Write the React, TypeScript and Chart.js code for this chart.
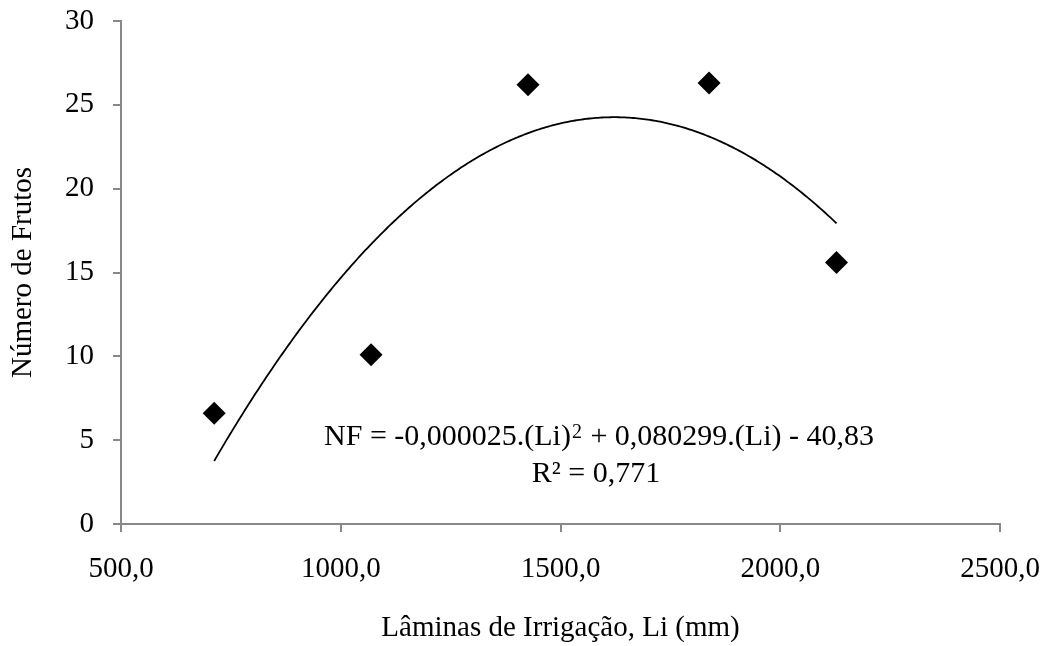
import { useEffect, useRef } from "react";
import { Chart, registerables } from "chart.js";

Chart.register(...registerables);

// Irrigation depth (mm) and number of fruits observed
const laminas = [712, 1069, 1426, 1838, 2128];
const numeroFrutos = [6.6, 10.1, 26.2, 26.3, 15.6];

// Axis ticks
const xTicks = [500, 1000, 1500, 2000, 2500];
const yTicks = [0, 5, 10, 15, 20, 25, 30];

// Regression label text
const equationMain = "NF = -0,000025.(Li)";
const equationSup = "2";
const equationRest = " + 0,080299.(Li) - 40,83";
const r2Label = "R² = 0,771";

const xTitle = "Lâminas de Irrigação, Li (mm)";
const yTitle = "Número de Frutos";

const FAMILY = '"Liberation Serif", "Times New Roman", serif';
const AXIS_GREY = "#888888";

// Least-squares quadratic fit y = a x^2 + b x + c (polynomial trendline)
function quadraticFit(xs: number[], ys: number[]) {
  const n = xs.length;
  let s1 = 0, s2 = 0, s3 = 0, s4 = 0, t0 = 0, t1 = 0, t2 = 0;
  for (let i = 0; i < n; i++) {
    const x = xs[i], y = ys[i];
    s1 += x; s2 += x * x; s3 += x * x * x; s4 += x * x * x * x;
    t0 += y; t1 += x * y; t2 += x * x * y;
  }
  const m = [
    [s4, s3, s2, t2],
    [s3, s2, s1, t1],
    [s2, s1, n, t0],
  ];
  for (let col = 0; col < 3; col++) {
    let piv = col;
    for (let r = col + 1; r < 3; r++) if (Math.abs(m[r][col]) > Math.abs(m[piv][col])) piv = r;
    [m[col], m[piv]] = [m[piv], m[col]];
    for (let r = 0; r < 3; r++) {
      if (r === col) continue;
      const f = m[r][col] / m[col][col];
      for (let k = col; k < 4; k++) m[r][k] -= f * m[col][k];
    }
  }
  return { a: m[0][3] / m[0][0], b: m[1][3] / m[1][1], c: m[2][3] / m[2][2] };
}

function trendPoints() {
  const { a, b, c } = quadraticFit(laminas, numeroFrutos);
  const lo = Math.min(...laminas);
  const hi = Math.max(...laminas);
  const steps = 300;
  const pts: { x: number; y: number }[] = [];
  for (let i = 0; i <= steps; i++) {
    const x = lo + ((hi - lo) * i) / steps;
    pts.push({ x, y: a * x * x + b * x + c });
  }
  return pts;
}

const fmtComma = (v: number) => v.toFixed(1).replace(".", ",");

// Draws the regression equation and R² inside the plot area
const equationPlugin = {
  id: "equationLabel",
  afterDatasetsDraw(chart: any) {
    const { ctx, chartArea } = chart;
    ctx.save();
    ctx.fillStyle = "#000";
    ctx.textBaseline = "alphabetic";
    const mainFont = `30px ${FAMILY}`;
    const supFont = `20px ${FAMILY}`;
    ctx.font = mainFont;
    const w1 = ctx.measureText(equationMain).width;
    const w3 = ctx.measureText(equationRest).width;
    ctx.font = supFont;
    const w2 = ctx.measureText(equationSup).width + 2;
    const total = w1 + w2 + w3;
    const cx = chartArea.left + 478;
    const base1 = chartArea.top + 424;
    let x = cx - total / 2;
    ctx.textAlign = "left";
    ctx.font = mainFont;
    ctx.fillText(equationMain, x, base1);
    x += w1;
    ctx.font = supFont;
    ctx.fillText(equationSup, x + 1, base1 - 7);
    x += w2;
    ctx.font = mainFont;
    ctx.fillText(equationRest, x, base1);
    ctx.textAlign = "center";
    ctx.fillText(r2Label, chartArea.left + 475, chartArea.top + 461);
    ctx.restore();
  },
};

export default function App() {
  const canvasRef = useRef<HTMLCanvasElement | null>(null);

  useEffect(() => {
    if (!canvasRef.current) return;
    const tickFont = { family: FAMILY, size: 29 };
    const chart = new Chart(canvasRef.current, {
      type: "scatter",
      data: {
        datasets: [
          {
            type: "line",
            label: "trend",
            data: trendPoints(),
            borderColor: "#000",
            borderWidth: 1.8,
            pointRadius: 0,
            fill: false,
            tension: 0,
            order: 2,
          } as any,
          {
            type: "scatter",
            label: "NF",
            data: laminas.map((x, i) => ({ x, y: numeroFrutos[i] })),
            backgroundColor: "#000",
            borderColor: "#000",
            borderWidth: 0,
            pointStyle: "rectRot",
            pointRadius: 11.5,
            order: 1,
          },
        ],
      },
      options: {
        animation: false,
        responsive: false,
        devicePixelRatio: 1,
        layout: { padding: { left: 6, top: 21, right: 51, bottom: 0 } },
        plugins: {
          legend: { display: false },
          tooltip: { enabled: false },
        },
        scales: {
          x: {
            type: "linear",
            min: 500,
            max: 2500,
            afterBuildTicks: (scale: any) => {
              scale.ticks = xTicks.map((value) => ({ value }));
            },
            afterFit: (scale: any) => {
              scale.height = 122;
              scale.paddingLeft = 0;
              scale.paddingRight = 0;
            },
            ticks: {
              color: "#000",
              font: tickFont,
              padding: 20,
              maxRotation: 0,
              autoSkip: false,
              callback: (v: any) => fmtComma(Number(v)),
            },
            grid: {
              display: true,
              drawOnChartArea: false,
              drawTicks: true,
              tickLength: 8,
              color: AXIS_GREY,
              lineWidth: 2,
            },
            border: { display: true, color: AXIS_GREY, width: 2 },
            title: {
              display: true,
              text: xTitle,
              color: "#000",
              font: { family: FAMILY, size: 29 },
              padding: { top: 0, bottom: 0 },
            },
          },
          y: {
            type: "linear",
            min: 0,
            max: 30,
            afterBuildTicks: (scale: any) => {
              scale.ticks = yTicks.map((value) => ({ value }));
            },
            afterFit: (scale: any) => {
              scale.width = 115;
              scale.paddingTop = 0;
              scale.paddingBottom = 0;
            },
            ticks: {
              color: "#000",
              font: tickFont,
              padding: 19,
              autoSkip: false,
            },
            grid: {
              display: true,
              drawOnChartArea: false,
              drawTicks: true,
              tickLength: 8,
              color: AXIS_GREY,
              lineWidth: 2,
            },
            border: { display: true, color: AXIS_GREY, width: 2 },
            title: {
              display: true,
              text: yTitle,
              color: "#000",
              font: { family: FAMILY, size: 29 },
              padding: { top: 0, bottom: 0 },
            },
          },
        },
      },
      plugins: [equationPlugin],
    });
    return () => chart.destroy();
  }, []);

  return (
    <div style={{ position: "fixed", left: 0, top: 0, width: 1051, height: 646, background: "#fff" }}>
      <canvas ref={canvasRef} width={1051} height={646} style={{ display: "block" }} />
    </div>
  );
}
